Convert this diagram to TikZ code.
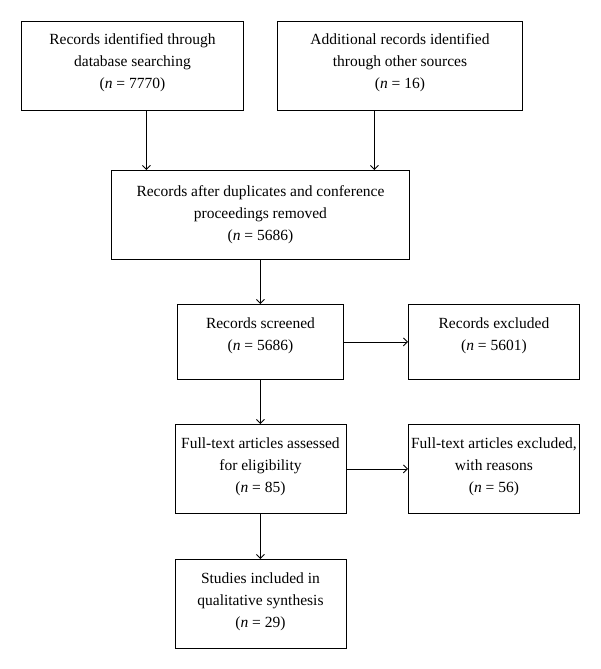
\documentclass[tikz,border=0pt]{standalone}
\usepackage{fontspec}
\setmainfont{Liberation Serif}
\usetikzlibrary{arrows.meta}

% text set from the top of a box of given height
\newcommand{\boxtext}[3][8.6pt]{\vbox to #2{\vskip#1\hbox{\begin{tabular}{@{}c@{}}#3\end{tabular}}\vfil}}

\begin{document}
\begin{tikzpicture}[x=1pt, y=-1pt,
  box/.style={draw, line width=0.9pt, inner sep=0pt, anchor=north west,
    font=\fontsize{15.5}{22}\selectfont},
  arr/.style={-{Straight Barb[length=4pt,width=8pt]}, line width=0.9pt}]
  \useasboundingbox (0,0) rectangle (600,669);
  \node[box, minimum width=222pt] (ident) at (21,21)
    {\boxtext[8pt]{89pt}{Records identified through\\database searching\\(\textit{n} = 7770)}};
  \node[box, minimum width=245pt] (other) at (277,21)
    {\boxtext[8pt]{89pt}{Additional records identified\\through other sources\\(\textit{n} = 16)}};
  \node[box, minimum width=298pt] (dupl) at (111,170)
    {\boxtext[11pt]{89pt}{Records after duplicates and conference\\proceedings removed\\(\textit{n} = 5686)}};
  \node[box, minimum width=166pt] (screen) at (177,304)
    {\boxtext{75pt}{Records screened\\(\textit{n} = 5686)}};
  \node[box, minimum width=171pt] (excl) at (408,304)
    {\boxtext{75pt}{Records excluded\\(\textit{n} = 5601)}};
  \node[box, minimum width=171pt] (full) at (174.5,424)
    {\boxtext{89pt}{Full-text articles assessed\\for eligibility\\(\textit{n} = 85)}};
  \node[box, minimum width=171pt] (fullexcl) at (408,424)
    {\boxtext{89pt}{Full-text articles excluded,\\with reasons\\(\textit{n} = 56)}};
  \node[box, minimum width=171pt] (incl) at (174.5,559)
    {\boxtext{89pt}{Studies included in\\qualitative synthesis\\(\textit{n} = 29)}};

  % connectors
  \coordinate (in1) at ([xshift=-114pt]dupl.north);
  \coordinate (in2) at ([xshift=114pt]dupl.north);
  \draw[arr] (ident.south -| in1) -- (in1);
  \draw[arr] (other.south -| in2) -- (in2);
  \draw[arr] (dupl.south -| screen.north) -- (screen.north);
  \draw[arr] (screen.east) -- (excl.west);
  \draw[arr] (screen.south) -- (full.north);
  \draw[arr] (full.east) -- (fullexcl.west);
  \draw[arr] (full.south) -- (incl.north);
\end{tikzpicture}
\end{document}
